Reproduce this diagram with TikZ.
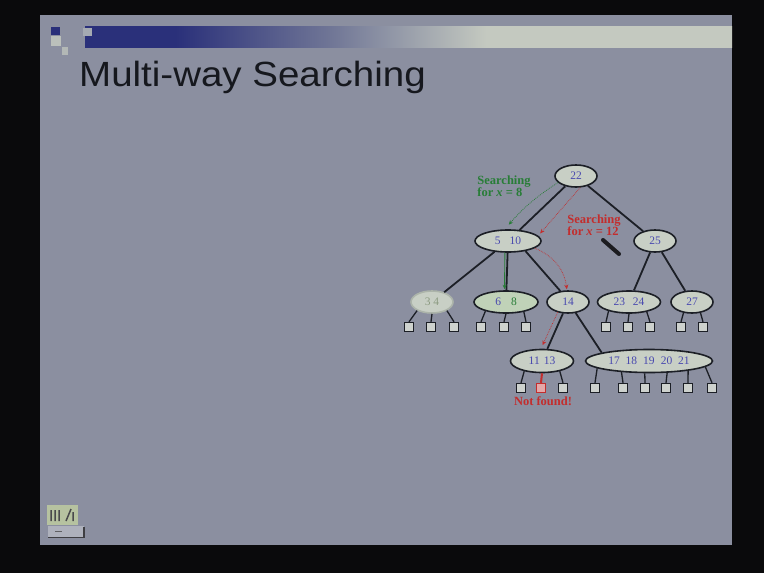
\documentclass[tikz,border=0pt]{standalone}
\usepackage{fontspec}
\setmainfont{Liberation Serif}
\newfontfamily\titlefont[FakeStretch=1.1]{Liberation Sans}
\usetikzlibrary{shapes.geometric,arrows.meta}

\definecolor{framebk}{RGB}{10,10,12}
\definecolor{slidebg}{RGB}{139,143,160}
\definecolor{titlecol}{RGB}{22,24,30}
\definecolor{barnavy}{RGB}{42,48,122}
\definecolor{barmid}{RGB}{112,118,150}
\definecolor{barlight}{RGB}{196,201,192}
\definecolor{edgecol}{RGB}{28,31,38}
\definecolor{nodefill}{RGB}{200,207,197}
\definecolor{greenfill}{RGB}{192,210,184}
\definecolor{leaffill}{RGB}{206,210,206}
\definecolor{fadeline}{RGB}{172,180,170}
\definecolor{fadetext}{RGB}{140,155,130}
\definecolor{keyblue}{RGB}{72,72,175}
\definecolor{pathgreen}{RGB}{40,125,55}
\definecolor{pathred}{RGB}{195,45,45}
\definecolor{redleaf}{RGB}{228,168,168}
\definecolor{penblack}{RGB}{28,28,32}
\definecolor{logofill}{RGB}{182,194,160}

% navy-to-light band under the slide title (visible part spans 25bp..75bp)
\pgfdeclarehorizontalshading{titleband}{100bp}{color(0bp)=(barnavy);
  color(32bp)=(barnavy); color(44bp)=(barmid); color(56bp)=(barlight);
  color(100bp)=(barlight)}

\begin{document}
\begin{tikzpicture}[x=1pt,y=-1pt,
  key/.style={ellipse, draw=edgecol, line width=1.6pt, fill=nodefill,
    inner sep=0pt, minimum height=22pt, text=keyblue,
    font=\fontsize{11.5}{11.5}\selectfont},
  leaf/.style={rectangle, draw=edgecol, line width=1.4pt, fill=leaffill,
    minimum size=9pt, inner sep=0pt},
  edge/.style={draw=edgecol, line width=1.8pt},
  stub/.style={draw=edgecol, line width=1.3pt},
  greenpath/.style={draw=pathgreen, line width=0.9pt,
    -{Stealth[length=4.5pt,width=4pt]}},
  redpath/.style={draw=pathred, line width=0.7pt, densely dotted,
    -{Stealth[length=4.5pt,width=4pt]}},
  note/.style={align=left, inner sep=0pt,
    font=\fontsize{12.5}{12.5}\selectfont\bfseries}]

% frame and slide
\useasboundingbox (0,0) rectangle (764,573);
\fill[framebk] (0,0) rectangle (764,573);
\fill[slidebg] (40,15) rectangle (732,545);

% title band and corner squares
\shade[shading=titleband] (85,26) rectangle (732,47);
\fill[barnavy] (51,27) rectangle (60,35);
\fill[barlight!85!slidebg] (51,36) rectangle (61,46);
\fill[barlight!70!slidebg] (62,47) rectangle (68,55);
\fill[barlight!80!barnavy] (83,28) rectangle (92,36);

\node[anchor=base west, inner sep=0pt, text=titlecol,
  font=\titlefont\fontsize{35}{35}\selectfont] (title) at (79,86) {Multi-way Searching};

% internal nodes
\node[key, minimum width=42pt] (root)  at (576,176) {22};
\node[key, minimum width=66pt] (n510)  at (508,241) {5\hspace{9pt}10};
\node[key, minimum width=42pt] (n25)   at (655,241) {25};
\node[key, minimum width=42pt, draw=fadeline, text=fadetext] (n34) at (432,302) {3\hspace{3pt}4};
\node[key, minimum width=64pt, fill=greenfill] (n68) at (506,302) {6\hspace{10pt}\textcolor{pathgreen}{8}};
\node[key, minimum width=42pt] (n14)   at (568,302) {14};
\node[key, minimum width=63pt] (n2324) at (629,302) {23\hspace{8pt}24};
\node[key, minimum width=42pt] (n27)   at (692,302) {27};
\node[key, minimum width=63pt, minimum height=23pt] (n1113) at (542,361) {11\hspace{4pt}13};
\node[key, minimum width=127pt, minimum height=23pt] (n1721) at (649,361)
  {17\hspace{6pt}18\hspace{6pt}19\hspace{6pt}20\hspace{6pt}21};

% external leaves, upper row
\foreach \nm/\xx in {l341/409, l342/431, l343/454, l681/481, l682/504, l683/526,
                     l231/606, l232/628, l233/650, l271/681, l272/703}
  \node[leaf] (\nm) at (\xx,327) {};
% external leaves, lower row
\foreach \nm/\xx in {l111/521, l113/563, l171/595, l172/623, l173/645,
                     l174/666, l175/688, l176/712}
  \node[leaf] (\nm) at (\xx,388) {};
\node[leaf, draw=pathred, fill=redleaf] (l112) at (541,388) {};

% tree edges
\draw[edge] (root) -- (n510);
\draw[edge] (root) -- (n25);
\draw[edge] (n510) -- (n34);
\draw[edge] (n510) -- (n68);
\draw[edge] (n510.-30) -- (n14.125);
\draw[edge] (n25) -- (n2324);
\draw[edge] (n25) -- (n27);
\draw[edge] (n14) -- (n1113);
\draw[edge] (n14.-55) -- (n1721.170);

% leaf stubs
\draw[stub] (l341.north) -- (n34.210);
\draw[stub] (l342.north) -- (n34.270);
\draw[stub] (l343.north) -- (n34.330);
\draw[stub] (l681.north) -- (n68.204);
\draw[stub] (l682.north) -- (n68.270);
\draw[stub] (l683.north) -- (n68.331);
\draw[stub] (l231.north) -- (n2324.204);
\draw[stub] (l232.north) -- (n2324.270);
\draw[stub] (l233.north) -- (n2324.331);
\draw[stub] (l271.north) -- (n27.232);
\draw[stub] (l272.north) -- (n27.308);
\draw[stub] (l111.north) -- (n1113.210);
\draw[stub] (l113.north) -- (n1113.330);
\draw[stub] (l171.north) -- (n1721.188);
\draw[stub] (l172.north) -- (n1721.202);
\draw[stub] (l173.north) -- (n1721.251);
\draw[stub] (l174.north) -- (n1721.327);
\draw[stub] (l175.north) -- (n1721.346);
\draw[stub] (l176.north) -- (n1721.354);
\draw[draw=pathred, line width=2pt] (n1113.270) -- (l112.north);

% search for x = 8
\node[note, text=pathgreen] (lab8) at (504,186) {Searching\\for \textit{x} = 8};
\draw[greenpath, densely dotted, line width=0.7pt, shorten >=6pt] (root.200) to[bend right=8] (n510.105);
\draw[greenpath, shorten >=1pt] (n510.255) -- (n68.97);

% search for x = 12
\node[note, text=pathred] (lab12) at (594,225) {Searching\\for \textit{x} = 12};
\draw[redpath, shorten >=3pt] (root.290) -- (n510.10);
\draw[redpath, shorten >=1pt] (n510.-15) to[bend left=30] (n14.95);
\draw[redpath, shorten >=4pt] (n14.225) -- (n1113.95);
\node[note, text=pathred, anchor=north] (nf) at (543,396) {Not found!};

% pen stroke
\draw[penblack, line width=4pt, line cap=round] (603,240) -- (619,254);

% logo in the lower left corner
\fill[logofill] (47,505) rectangle (78,525);
\draw[penblack!80, line width=1.5pt] (51,510) -- (51,521) (55,510) -- (55,521)
  (59,510) -- (59,521) (66,521) -- (71,509) (73,512) -- (73,521);
\fill[slidebg!70!white] (48,526) rectangle (84,538);
\draw[penblack!85, line width=1.2pt] (48,537.5) -- (84,537.5) -- (84,527);
\draw[penblack!70, line width=1pt] (55,531) -- (62,531);
\end{tikzpicture}
\end{document}
